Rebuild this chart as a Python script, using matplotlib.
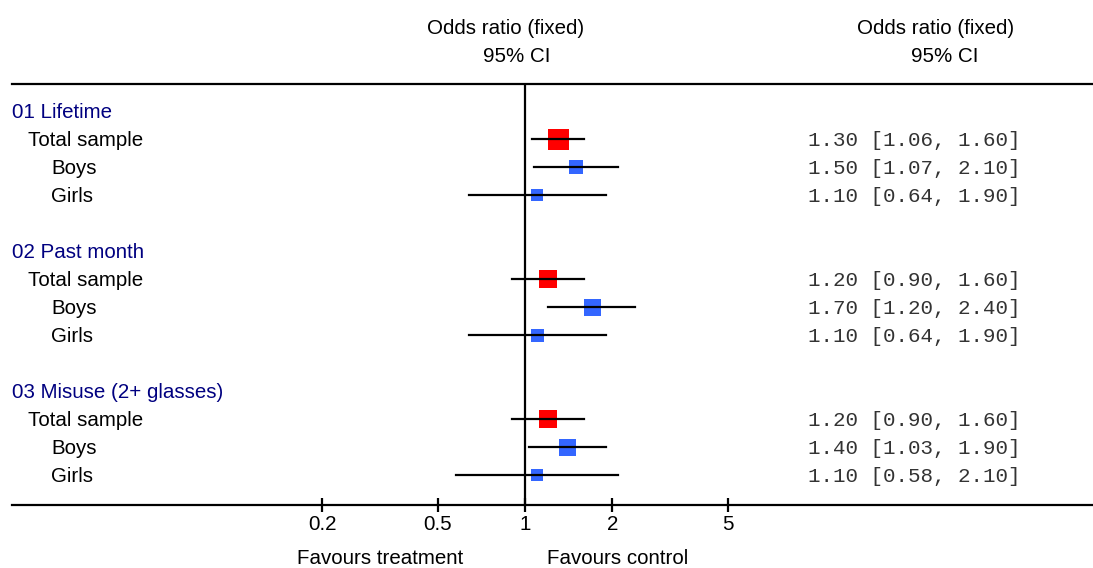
import numpy as np
import matplotlib
matplotlib.use("Agg")
import matplotlib.pyplot as plt
from matplotlib.transforms import blended_transform_factory

# Forest plot data: odds ratios with 95% CI per outcome and subgroup
groups = ['01 Lifetime', '02 Past month', '03 Misuse (2+ glasses)']
subgroups = ['Total sample', 'Boys', 'Girls']
odds = [[1.30, 1.50, 1.10], [1.20, 1.70, 1.10], [1.20, 1.40, 1.10]]
ci_low = [[1.06, 1.07, 0.64], [0.90, 1.20, 0.64], [0.90, 1.03, 0.58]]
ci_high = [[1.60, 2.10, 1.90], [1.60, 2.40, 1.90], [1.60, 1.90, 2.10]]
weights = [[21, 14, 12], [18, 17, 13], [18, 17, 12]]
tick_vals = [0.2, 0.5, 1, 2, 5]
tick_labels = ['0.2', '0.5', '1', '2', '5']

W, H = 1093, 568
plt.rcParams['font.family'] = ['Liberation Sans', 'DejaVu Sans']
fs = 14.8

fig = plt.figure(figsize=(W / 100, H / 100), dpi=100)
# axes spans the plotting band between the two rules
ax = fig.add_axes([0, 63 / H, 1, 421 / H])
px_per_dec = 290.0
x0 = 525.0
ax.set_xscale('log')
ax.set_xlim(10 ** (-x0 / px_per_dec), 10 ** ((W - x0) / px_per_dec))
ax.set_ylim((505 - 111) / 28, (84 - 111) / 28)
ax.patch.set_visible(False)

def px2data(px):
    return 10 ** ((px - x0) / px_per_dec)

for s in ['left', 'right']:
    ax.spines[s].set_visible(False)
for s in ['top', 'bottom']:
    ax.spines[s].set_linewidth(1.6)
    ax.spines[s].set_bounds(px2data(12), ax.get_xlim()[1])

ax.set_yticks([])
ax.set_xticks(tick_vals)
ax.set_xticklabels(tick_labels)
ax.xaxis.set_minor_locator(plt.NullLocator())
ax.tick_params(axis='x', direction='inout', length=10, width=1.6, pad=2, labelsize=fs)

ax.axvline(1, color='black', lw=1.6, zorder=3)

tr = blended_transform_factory(fig.transFigure, ax.transData)
mono = 'Liberation Mono'
dy = 2 / 28  # nudge labels down onto the row centre

row = 0
for g, name in enumerate(groups):
    ax.text(12 / W, row + dy, name, transform=tr, color='#000080', fontsize=fs, va='center', ha='left')
    row += 1
    for k, sub in enumerate(subgroups):
        indent = 28 if k == 0 else 51
        ax.text(indent / W, row + dy, sub, transform=tr, color='black', fontsize=fs, va='center', ha='left')
        color = '#ff0000' if k == 0 else '#3366ff'
        ax.plot([odds[g][k]], [row], marker='s', linestyle='none', color=color,
                markersize=weights[g][k] * 0.72, markeredgewidth=0, zorder=2)
        ax.plot([ci_low[g][k], ci_high[g][k]], [row, row], color='black', lw=1.6, zorder=4)
        label = '%.2f [%.2f, %.2f]' % (odds[g][k], ci_low[g][k], ci_high[g][k])
        ax.text(808 / W, row + dy, label, transform=tr, family=mono, color='#333333',
                fontsize=15, va='center', ha='left')
        row += 1
    row += 1

# column headers
def ftext(px, py, s):
    fig.text(px / W, 1 - py / H, s, fontsize=fs, ha='center', va='center')

ftext(506, 29, 'Odds ratio (fixed)')
ftext(517, 56, '95% CI')
ftext(936, 29, 'Odds ratio (fixed)')
ftext(945, 56, '95% CI')
ftext(380, 559, 'Favours treatment')
ftext(618, 559, 'Favours control')

fig.savefig('out.png', dpi=100)
